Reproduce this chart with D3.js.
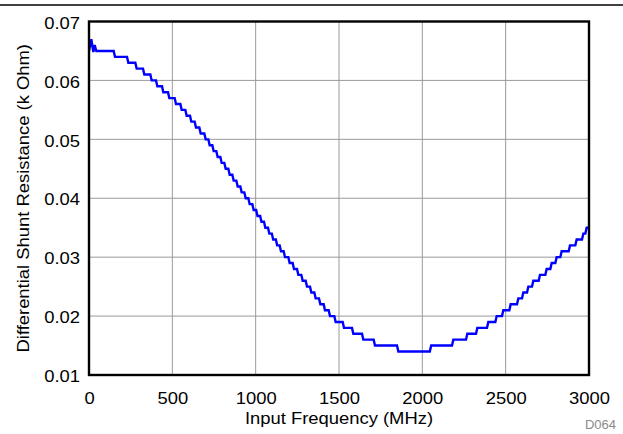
<!DOCTYPE html>
<html>
<head>
<meta charset="utf-8">
<script src="https://cdn.jsdelivr.net/npm/d3@7"></script>
<style>
  html, body { margin: 0; padding: 0; background: #fff; }
  svg { display: block; }
  text { font-family: "Liberation Sans", Arial, sans-serif; }
</style>
</head>
<body>
<svg id="chart" width="623" height="434"></svg>
<script>
// ---- data ----
const xTicks = [0, 500, 1000, 1500, 2000, 2500, 3000];
const yTicks = [0.01, 0.02, 0.03, 0.04, 0.05, 0.06, 0.07];

// initial ripple near 0 MHz
const rippleFreq = [0, 14, 26, 34, 44, 50];
const rippleValue = [0.065, 0.067, 0.0648, 0.066, 0.065, 0.065];

// staircase: start frequency (MHz) of each quantised level
const levelFreq = [50, 156, 236, 286, 332, 376, 410, 446, 482, 522, 556, 586, 614, 642, 670, 700,
  724, 748, 772, 796, 820, 844, 868, 892, 916, 940, 964, 988, 1011, 1035, 1058, 1082, 1105, 1129, 1152, 1176,
  1204, 1230, 1256, 1282, 1308, 1334, 1360, 1388, 1416, 1446, 1480, 1530, 1586, 1646, 1716, 1856,
  2053, 2186, 2270, 2330, 2396, 2446, 2486, 2530, 2576, 2606, 2636, 2666, 2706, 2746, 2776, 2806, 2836, 2886, 2926, 2966, 2986];
const levelValue = [0.065, 0.064, 0.063, 0.062, 0.061, 0.060, 0.059, 0.058, 0.057, 0.056, 0.055, 0.054, 0.053, 0.052, 0.051, 0.050,
  0.049, 0.048, 0.047, 0.046, 0.045, 0.044, 0.043, 0.042, 0.041, 0.040, 0.039, 0.038, 0.037, 0.036, 0.035, 0.034, 0.033, 0.032, 0.031, 0.030,
  0.029, 0.028, 0.027, 0.026, 0.025, 0.024, 0.023, 0.022, 0.021, 0.020, 0.019, 0.018, 0.017, 0.016, 0.015, 0.014,
  0.015, 0.016, 0.017, 0.018, 0.019, 0.020, 0.021, 0.022, 0.023, 0.024, 0.025, 0.026, 0.027, 0.028, 0.029, 0.030, 0.031, 0.032, 0.033, 0.034, 0.035];
const endFreq = 3000;

(function () {
  const svg = d3.select("#chart");
  const mL = 89, mR = 589, mT = 21.5, mB = 375;
  const FS = 16.3, STRETCH = 1.13;
  const x = d3.scaleLinear().domain([0, 3000]).range([mL, mR]);
  const y = d3.scaleLinear().domain([0.01, 0.07]).range([mB, mT]);

  function stretch(sel) {
    sel.each(function () {
      const len = this.getComputedTextLength();
      this.setAttribute("textLength", len * STRETCH);
      this.setAttribute("lengthAdjust", "spacingAndGlyphs");
    });
  }

  // top rule
  svg.append("line").attr("x1", 0).attr("x2", 623).attr("y1", 5).attr("y2", 5)
    .attr("stroke", "#000").attr("stroke-width", 1.5);

  // gridlines
  const grid = svg.append("g").attr("stroke", "#9a9a9a").attr("stroke-width", 1);
  grid.selectAll(".vx").data(xTicks.slice(1, -1)).join("line")
    .attr("x1", d => x(d)).attr("x2", d => x(d)).attr("y1", mT).attr("y2", mB);
  grid.selectAll(".hy").data(yTicks.slice(1, -1)).join("line")
    .attr("x1", mL).attr("x2", mR).attr("y1", d => y(d)).attr("y2", d => y(d));

  // axes (labels only)
  const xAxis = d3.axisBottom(x).tickValues(xTicks).tickSize(0).tickPadding(0).tickFormat(d3.format("d"));
  const gx = svg.append("g").attr("transform", `translate(0,${mB})`).call(xAxis);
  gx.select(".domain").remove();
  gx.selectAll("text").attr("font-size", FS).attr("fill", "#000")
    .attr("font-family", "Liberation Sans, Arial, sans-serif").attr("y", 29).attr("dy", null)
    .call(stretch);

  const yAxis = d3.axisLeft(y).tickValues(yTicks).tickSize(0).tickPadding(9).tickFormat(d3.format(".2f"));
  const gy = svg.append("g").attr("transform", `translate(${mL},0)`).call(yAxis);
  gy.select(".domain").remove();
  gy.selectAll("text").attr("font-size", FS).attr("fill", "#000")
    .attr("font-family", "Liberation Sans, Arial, sans-serif").attr("dy", "0.41em")
    .call(stretch);

  // curve points
  const pts = rippleFreq.map((f, i) => [f, rippleValue[i]]);
  const riser = 8;
  levelFreq.forEach((f, i) => {
    const next = i + 1 < levelFreq.length ? levelFreq[i + 1] - riser : endFreq;
    pts.push([f, levelValue[i]]);
    pts.push([next, levelValue[i]]);
  });
  const line = d3.line().x(d => x(d[0])).y(d => y(d[1]));

  svg.append("defs").append("clipPath").attr("id", "clip")
    .append("rect").attr("x", mL).attr("y", mT - 2).attr("width", mR - mL).attr("height", mB - mT + 4);

  svg.append("path").datum(pts).attr("d", line)
    .attr("fill", "none").attr("stroke", "#0000ff").attr("stroke-width", 2.4)
    .attr("stroke-linejoin", "miter").attr("clip-path", "url(#clip)");

  // frame
  svg.append("rect").attr("x", mL).attr("y", mT).attr("width", mR - mL).attr("height", mB - mT)
    .attr("fill", "none").attr("stroke", "#000").attr("stroke-width", 2.4);

  // titles
  svg.append("text").attr("x", (mL + mR) / 2).attr("y", 424).attr("text-anchor", "middle")
    .attr("font-size", FS).text("Input Frequency (MHz)").call(stretch);
  svg.append("text").attr("transform", `translate(29,${(mT + mB) / 2}) rotate(-90)`)
    .attr("text-anchor", "middle").attr("font-size", FS).text("Differential Shunt Resistance (k Ohm)").call(stretch);
  svg.append("text").attr("x", 616).attr("y", 429).attr("text-anchor", "end")
    .attr("font-size", 13).attr("fill", "#8a8a8a").text("D064");
})();
</script>
</body>
</html>
